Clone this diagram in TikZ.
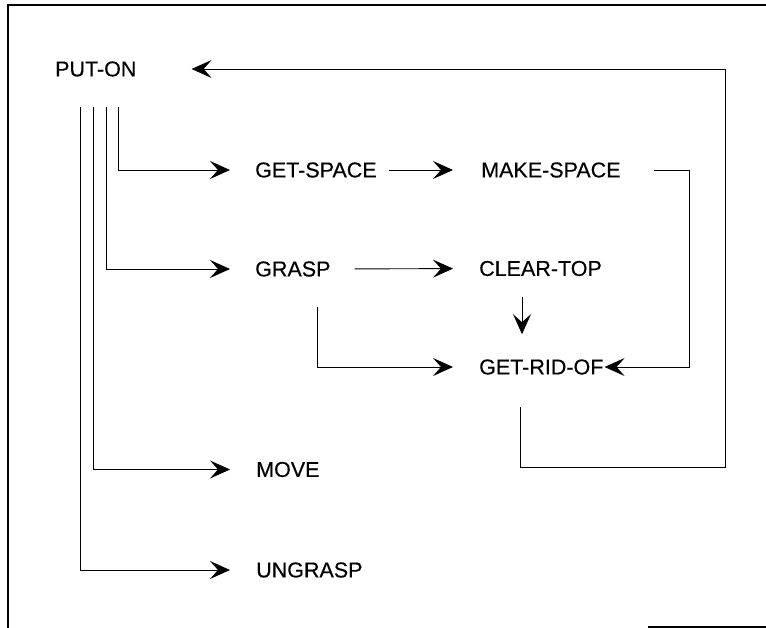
\documentclass[tikz,border=0pt]{standalone}
\usepackage{fontspec}
\setmainfont{Liberation Sans}
\newfontfamily\labelfont[FakeBold=0.35]{Liberation Sans}
\usetikzlibrary{arrows.meta}
\begin{document}
\begin{tikzpicture}[x=1pt,y=-1pt,
  label/.style={anchor=west,inner sep=0pt,font=\labelfont\fontsize{21.5}{24}\selectfont},
  link/.style={line width=0.9pt,-{Stealth[length=20pt,width=18pt,inset=8pt]}},
  frame/.style={line width=1.2pt}]
\useasboundingbox (0,0) rectangle (766,628);

% outer frame (partly open)
\draw[frame] (8,628) -- (8,5) -- (766,5);
\draw[frame] (648,627) -- (766,627);

% procedure names
\node[label] (puton)     at (55,69)    {PUT-ON};
\node[label] (getspace)  at (255,170)  {GET-SPACE};
\node[label] (makespace) at (481,170)  {MAKE-SPACE};
\node[label] (grasp)     at (255,269)  {GRASP};
\node[label] (cleartop)  at (479,268.5){CLEAR-TOP};
\node[label] (getrid)    at (479,367)  {GET-RID-OF};
\node[label] (move)      at (256,469.5){MOVE};
\node[label] (ungrasp)   at (256,570)  {UNGRASP};

% stems leaving PUT-ON
\coordinate (s1) at (80,107);
\coordinate (s2) at (93,107);
\coordinate (s3) at (106,107);
\coordinate (s4) at (118,107);
\draw[link,shorten >=25pt] (s4) |- (getspace.west);
\draw[link,shorten >=25pt] (s3) |- (grasp.west);
\draw[link,shorten >=26pt] (s2) |- (move.west);
\draw[link,shorten >=26pt] (s1) |- (ungrasp.west);

% calls between subprocedures
\draw[link,shorten <=12pt,shorten >=28pt] (getspace.east) -- (makespace.west);
\draw[link,shorten <=24pt,shorten >=26pt] (grasp.east) -- (cleartop.west);

\coordinate (g1) at (317,307);
\draw[link,shorten >=26pt] (g1) |- (getrid.west);

\coordinate (c1) at (522,297);
\draw[link,shorten >=25pt] (c1) -- (c1 |- getrid.north);

\coordinate (m1) at (689,170);
\draw[link,shorten <=33pt,shorten >=1pt] (makespace.east) -- (m1) |- (getrid.east);

% return path back to PUT-ON
\coordinate (r1) at (520,407);
\coordinate (r2) at (725,467);
\draw[link,shorten >=55pt] (r1) |- (r2) |- (puton.east);
\end{tikzpicture}
\end{document}
